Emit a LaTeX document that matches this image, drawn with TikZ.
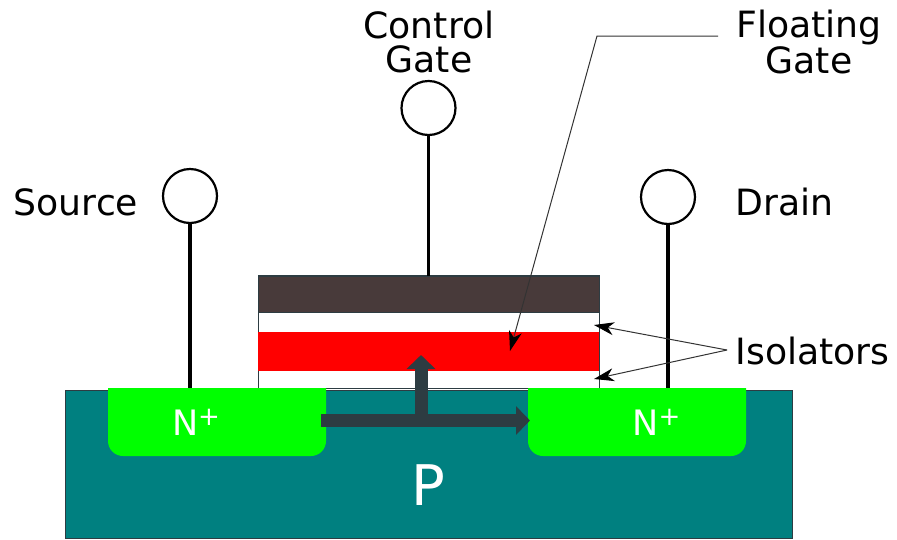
\documentclass[tikz,border=0pt]{standalone}
\usepackage{fontspec}
\setmainfont{DejaVu Sans}
\usepackage{xcolor}
\usetikzlibrary{arrows.meta,calc,positioning}
\definecolor{substrate}{HTML}{008080}
\definecolor{gatebrown}{HTML}{483A3A}
\definecolor{flowdark}{HTML}{2D3C42}
\tikzset{%
  layer/.style={rectangle,inner sep=0pt,outer sep=0pt,line width=1pt},
  contact/.style={circle,draw,fill=white,line width=2.2pt,minimum size=54pt,inner sep=0pt},
  wire/.style={line width=3.2pt},
  caption/.style={font=\fontsize{36.2}{34}\selectfont,align=center,inner sep=0pt},
  pointer/.style={line width=1pt,black!80,-{Stealth[length=20pt,width=13pt,inset=6pt,black]}},
  flow/.style={flowdark,line width=13pt,-{Triangle[length=14pt,width=28pt]}},
}
\newcommand{\nplus}{N\raisebox{10pt}{\fontsize{26}{26}\selectfont +}}
\begin{document}
\begin{tikzpicture}[x=1pt,y=-1pt]
      \useasboundingbox (0,0) rectangle (897,539);

      \node[layer,draw=flowdark,fill=substrate,minimum width=727pt,minimum height=148pt] (bulk) at (428.5,464) {};

      \node[layer,draw=flowdark,minimum width=341pt,minimum height=113pt] (stack) at (428.5,332) {};
      \node[layer,draw=flowdark,fill=gatebrown,minimum width=341pt,minimum height=36pt] (control) at (428.5,294) {};
      \node[layer,fill=red,minimum width=341pt,minimum height=39pt] (floating) at (428.5,351.5) {};

      \node[layer,minimum width=218pt,minimum height=68pt] (nleft) at (217,422) {};
      \node[layer,minimum width=218pt,minimum height=68pt] (nright) at (637,422) {};
      \foreach \region in {nleft,nright}
        \fill[green] (\region.north west) [rounded corners=15pt] -- (\region.south west) -- (\region.south east) [sharp corners] -- (\region.north east) -- cycle;

      \node[text=white,font=\fontsize{35}{35}\selectfont,inner sep=0pt] (nlefttext) at (196,422) {\nplus};
      \node[text=white,font=\fontsize{35}{35}\selectfont,inner sep=0pt] (nrighttext) at (656.5,422) {\nplus};
      \node[text=white,font=\fontsize{56}{56}\selectfont,inner sep=0pt] (ptext) at (428.5,485) {P};

      \node[contact] (source) at (190,196) {};
      \node[contact] (gate) at (428.5,108) {};
      \node[contact] (drain) at (668,197) {};

      \draw[wire] (source) -- (source |- nleft.north);
      \draw[wire] (gate) -- (control);
      \draw[wire] (drain) -- (drain |- nright.north);

      \node[caption] (sourcelabel) at (76,202) {Source};
      \node[caption] (gatelabel) at (429,42) {Control\\Gate};
      \node[caption] (drainlabel) at (784.5,202) {Drain};
      \node[caption] (floatlabel) at (809,42) {Floating\\Gate};
      \node[caption] (isolabel) at (812.5,351) {Isolators};

      % thick arrows
      \coordinate (channel) at (321,420.5);
      \coordinate (channelend) at (530,420.5);
      \coordinate (tunnel) at (421,420);
      \coordinate (tunnelend) at (421,355);
      \draw[flow] (tunnel) -- (tunnelend);
      \draw[flow] (channel) -- (channelend);

      % thin pointers
      \coordinate (leadstart) at (718,36);
      \coordinate (leadbend) at (597,36);
      \coordinate (leadend) at (510,351);
      \coordinate (isofork) at (727,350);
      \coordinate (isotop) at (594,325);
      \coordinate (isobottom) at (594,379);
      \draw[pointer] (leadstart) -- (leadbend) -- (leadend);
      \draw[pointer] (isofork) -- (isotop);
      \draw[pointer] (isofork) -- (isobottom);
    \end{tikzpicture}
\end{document}
